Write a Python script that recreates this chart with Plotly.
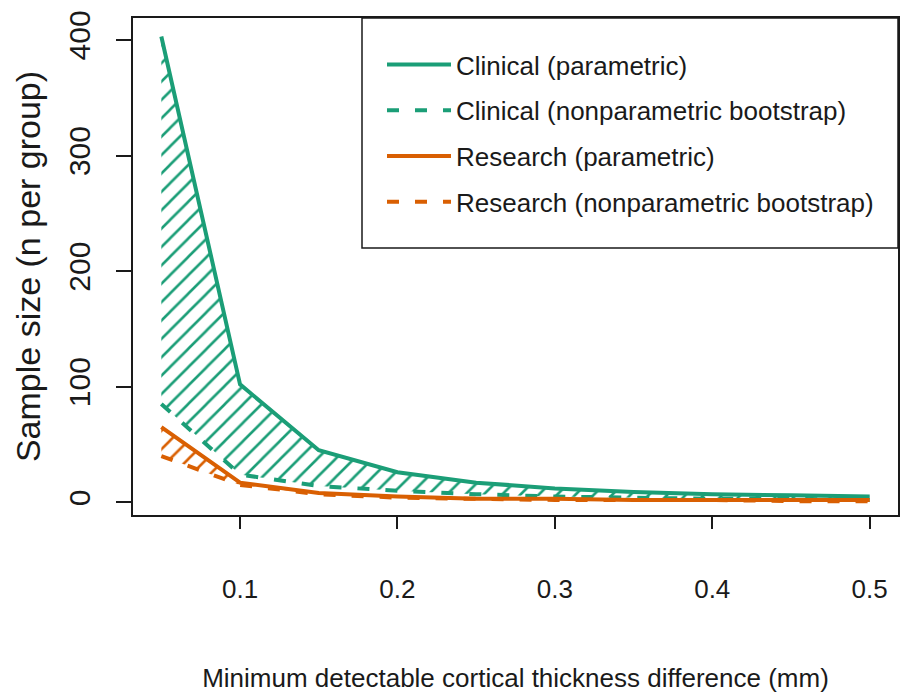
import plotly.graph_objects as go

# ---- data ----
diff_mm = [0.05, 0.10, 0.15, 0.20, 0.25, 0.30, 0.35, 0.40, 0.45, 0.50]
clinical_param = [403, 102, 45, 26, 17, 12, 9, 7, 6, 5]
clinical_boot = [85, 24, 14, 10, 7, 5, 4, 3, 3, 2]
research_param = [65, 17, 8, 5, 3, 3, 2, 2, 2, 2]
research_boot = [40, 15, 7, 4, 3, 2, 2, 2, 1, 1]

x_ticks = [0.1, 0.2, 0.3, 0.4, 0.5]
x_tick_labels = ["0.1", "0.2", "0.3", "0.4", "0.5"]
y_ticks = [0, 100, 200, 300, 400]

GREEN = "#1B9E77"
ORANGE = "#D95F02"
FONT = "Liberation Sans, Arial, Helvetica, sans-serif"
INK = "#1a1a1a"

fig = go.Figure()

def band(upper, lower, color):
    return go.Scatter(
        x=diff_mm + diff_mm[::-1],
        y=upper + lower[::-1],
        mode="lines",
        line=dict(width=0, color=color),
        fill="toself",
        fillcolor="rgba(0,0,0,0)",
        fillpattern=dict(shape="/", fgcolor=color, bgcolor="rgba(0,0,0,0)",
                         fgopacity=1, size=13, solidity=0.2, fillmode="overlay"),
        showlegend=False,
        hoverinfo="skip",
    )

fig.add_trace(band(clinical_param, clinical_boot, GREEN))
fig.add_trace(band(research_param, research_boot, ORANGE))

series = [
    ("Clinical (parametric)", clinical_param, GREEN, "solid"),
    ("Clinical (nonparametric bootstrap)", clinical_boot, GREEN, "12px,16px"),
    ("Research (parametric)", research_param, ORANGE, "solid"),
    ("Research (nonparametric bootstrap)", research_boot, ORANGE, "12px,16px"),
]
for i, (name, vals, col, dash) in enumerate(series):
    fig.add_trace(go.Scatter(x=diff_mm, y=vals, mode="lines", name=name,
                             legendgroup=f"g{i}",
                             line=dict(color=col, width=4, dash=dash)))

L, R, T, B = 133, 3, 18, 185
W, H = 901, 700
pw = W - L - R
ph = H - T - B

def px(xp):
    return (xp - L) / pw

def py(yp):
    return 1 - (yp - T) / ph

fig.update_layout(
    width=W, height=H,
    margin=dict(l=L, r=R, t=T, b=B, autoexpand=False),
    paper_bgcolor="white", plot_bgcolor="white",
    showlegend=True,
    legend=dict(
        x=px(382), y=py(41), xanchor="left", yanchor="top",
        bgcolor="rgba(0,0,0,0)", borderwidth=0,
        font=dict(family=FONT, size=26, color=INK),
        itemwidth=64, tracegroupgap=9, traceorder="grouped",
    ),
    shapes=[dict(type="rect", xref="paper", yref="paper",
                 x0=px(362), x1=1, y0=py(248), y1=1,
                 line=dict(color=INK, width=1.5), fillcolor="rgba(0,0,0,0)")],
)

fig.update_xaxes(
    range=[0.032, 0.518], automargin=False,
    tickmode="array", tickvals=x_ticks, ticktext=x_tick_labels,
    ticks="outside", ticklen=12, tickwidth=1.5, tickcolor=INK,
    ticklabelstandoff=38,
    tickfont=dict(family=FONT, size=26, color=INK),
    showline=True, linecolor=INK, linewidth=1.5, mirror=True,
    showgrid=False, zeroline=False,
    title=dict(text="Minimum detectable cortical thickness difference (mm)",
               font=dict(family=FONT, size=26, color=INK), standoff=66),
)
fig.update_yaxes(
    range=[-11, 419], automargin=False,
    tickmode="array", tickvals=y_ticks,
    ticks="outside", ticklen=15, tickwidth=1.5, tickcolor=INK,
    tickangle=-90, ticklabelstandoff=14,
    tickfont=dict(family=FONT, size=30, color=INK),
    showline=True, linecolor=INK, linewidth=1.5, mirror=True,
    showgrid=False, zeroline=False,
    title=dict(text="Sample size (n per group)",
               font=dict(family=FONT, size=34, color=INK), standoff=12),
)

fig.write_html("out.html",
               config={"displayModeBar": False},
               post_script="document.body.style.margin='0';"
                           "document.body.style.overflow='hidden';")
